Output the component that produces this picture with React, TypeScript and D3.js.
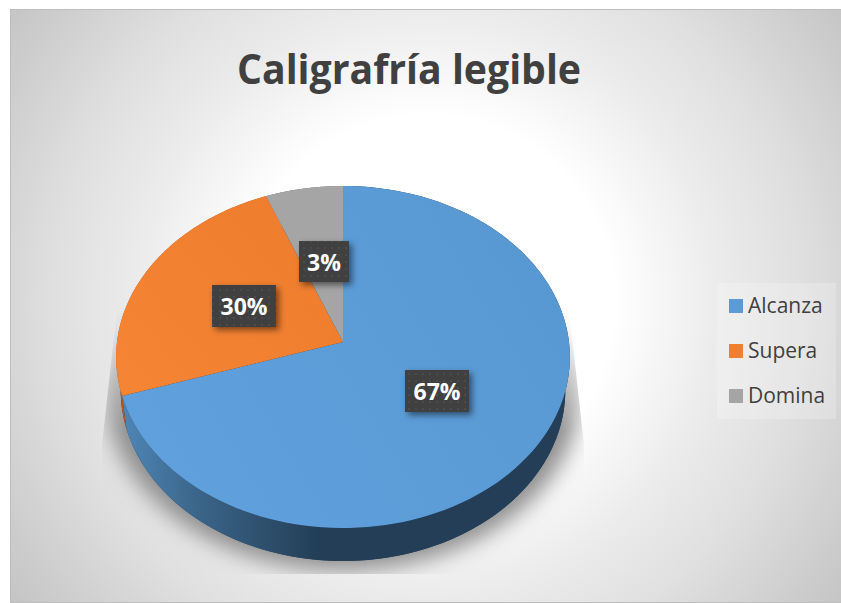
import React from "react";
import * as d3 from "d3";

const categories = ["Alcanza", "Supera", "Domina"];
const sliceShares = [70, 24, 6];
const percentLabels = ["67%", "30%", "3%"];
const colors = ["url(#topBlue)", "url(#topOrange)", "#a5a5a5"];
const legendColors = ["#5b9bd5", "#f07f30", "#a5a5a5"];
const sideColors = ["url(#sideBlue)", "#b5591f", "#777777"];

const W = 841, H = 603;
const apex = { x: 343, y: 342 };
const radius = 226;
const depth = 33;
const lowerInset = 0.98;
const persp = { a: 139.7, c: -0.0877 };
const labelBoxes = [
  { x: 405, y: 370, w: 64, h: 42 },
  { x: 212, y: 285, w: 64, h: 42 },
  { x: 299, y: 241, w: 50, h: 41 },
];

const project = (theta: number, r = 1): [number, number] => {
  const u = Math.sin(theta) * r;
  const v = -Math.cos(theta) * r;
  const q = 1 + persp.c * v;
  return [apex.x + (radius * u) / q, (persp.a * v + apex.y) / q];
};

const pieGen = d3.pie<number>().sort(null).value((d) => d);
const arcs = pieGen(sliceShares);
const line = d3.line();

const rimPoints = (a0: number, a1: number) =>
  d3.range(0, 121).map((i) => project(a0 + ((a1 - a0) * i) / 120));

const slicePath = (a0: number, a1: number) =>
  line([[apex.x, apex.y], ...rimPoints(a0, a1)])! + "Z";

const lowerPoint = ([x, y]: [number, number]): [number, number] => [
  apex.x + (x - apex.x) * lowerInset,
  y + depth,
];
const fullRim = rimPoints(0, Math.PI * 2);
const sideShape = (a0: number, a1: number) => {
  const rim = rimPoints(a0, a1);
  const lower = rim.map(lowerPoint).reverse();
  return line([...rim, ...lower])! + "Z";
};

export default function App() {
  const fullPath = line(fullRim)! + "Z";
  return (
    <svg width={W} height={H} viewBox={`0 0 ${W} ${H}`} style={{ position: "absolute", left: 0, top: 0, display: "block" }}>
      <defs>
        <radialGradient id="bg" gradientUnits="userSpaceOnUse" cx={428} cy={302} r={515}>
          <stop offset="0.36" stopColor="#ffffff" />
          <stop offset="0.57" stopColor="#ebebeb" />
          <stop offset="0.72" stopColor="#e0e0e0" />
          <stop offset="1" stopColor="#c4c4c4" />
        </radialGradient>
        <linearGradient id="topBlue" gradientUnits="userSpaceOnUse" x1={150} y1={500} x2={560} y2={250}>
          <stop offset="0" stopColor="#60a0dd" />
          <stop offset="1" stopColor="#5898d2" />
        </linearGradient>
        <linearGradient id="topOrange" gradientUnits="userSpaceOnUse" x1={120} y1={390} x2={340} y2={200}>
          <stop offset="0" stopColor="#f58433" />
          <stop offset="1" stopColor="#ee7c2e" />
        </linearGradient>
        <linearGradient id="sideBlue" gradientUnits="userSpaceOnUse" x1={120} x2={320} y1={0} y2={0}>
          <stop offset="0" stopColor="#4f87b8" />
          <stop offset="0.4" stopColor="#3a6488" />
          <stop offset="1" stopColor="#233e56" />
        </linearGradient>
        <linearGradient id="shadowFade" gradientUnits="userSpaceOnUse" x1={0} x2={0} y1={300} y2={430}>
          <stop offset="0" stopColor="#000000" />
          <stop offset="1" stopColor="#ffffff" />
        </linearGradient>
        <mask id="shadowMask" maskUnits="userSpaceOnUse" x={0} y={0} width={W} height={H}>
          <rect x={0} y={0} width={W} height={H} fill="url(#shadowFade)" />
        </mask>
        <filter id="shadowBlur" x="-20%" y="-20%" width="140%" height="140%">
          <feGaussianBlur stdDeviation="10" />
        </filter>
        <filter id="boxShadow" x="-30%" y="-30%" width="170%" height="170%">
          <feDropShadow dx="3" dy="3" stdDeviation="3" floodColor="#000" floodOpacity="0.5" />
        </filter>
        <pattern id="dots" patternUnits="userSpaceOnUse" width="7" height="7">
          <rect width="7" height="7" fill="#404040" />
          <circle cx="3" cy="3" r="1" fill="#505050" />
        </pattern>
        <clipPath id="shadowClip">
          <path d="M118,300 L102,445 L102,574 L584,574 L584,445 L568,300 Z" />
        </clipPath>
      </defs>
      <rect x={0} y={0} width={W} height={H} fill="#ffffff" />
      <rect x={10.5} y={9.5} width={W - 10} height={H - 10} fill="url(#bg)" stroke="#bdbdbd" strokeWidth={1} />
      <text x={409} y={84} textAnchor="middle" textLength={344} lengthAdjust="spacingAndGlyphs" fontFamily="'Open Sans', sans-serif" fontWeight={700} fontSize={41} fill="#404040">
        Caligrafría legible
      </text>

      <g clipPath="url(#shadowClip)">
        <g mask="url(#shadowMask)">
          <path d={fullPath} transform={`translate(343,${342 + depth + 2}) scale(1.045,1.04) translate(-343,-342)`} fill="#8f8f8f" filter="url(#shadowBlur)" />
        </g>
      </g>

      <path d={line(fullRim.map(lowerPoint))! + "Z"} fill="#233e56" />
      {arcs.map((a, i) => (
        <path key={categories[i]} d={sideShape(a.startAngle, a.endAngle)} fill={sideColors[i]} />
      ))}
      {arcs.map((a, i) => (
        <path key={categories[i]} d={slicePath(a.startAngle, a.endAngle)} fill={colors[i]} />
      ))}

      {labelBoxes.map((b, i) => (
        <g key={percentLabels[i]}>
          <rect x={b.x} y={b.y} width={b.w} height={b.h} fill="url(#dots)" filter="url(#boxShadow)" />
          <text x={b.x + b.w / 2} y={b.y + b.h / 2 + 9} textAnchor="middle" fontFamily="'Open Sans', sans-serif" fontWeight={700} fontSize={23} fill="#ffffff">
            {percentLabels[i]}
          </text>
        </g>
      ))}

      <rect x={717} y={283} width={119} height={136} fill="#ffffff" fillOpacity={0.22} />
      {categories.map((c, i) => (
        <g key={c}>
          <rect x={729} y={299 + i * 45} width={14} height={14} fill={legendColors[i]} />
          <text x={748} y={313 + i * 45} fontFamily="'Open Sans', sans-serif" fontSize={21} fill="#404040">
            {c}
          </text>
        </g>
      ))}
    </svg>
  );
}
